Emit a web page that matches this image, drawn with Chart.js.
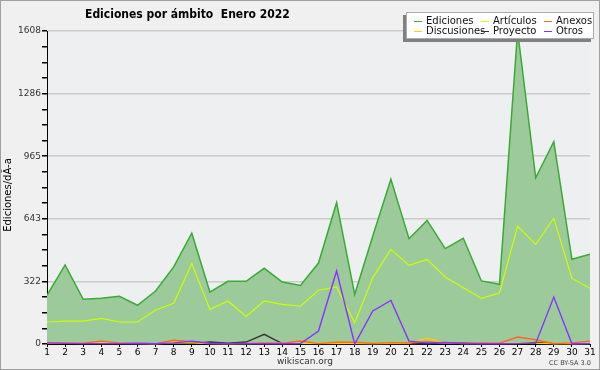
<!DOCTYPE html>
<html>
<head>
<meta charset="utf-8">
<script src="https://cdn.jsdelivr.net/npm/chart.js@4/dist/chart.umd.min.js"></script>
<style>
  html, body { margin: 0; padding: 0; background: #f0f0f0; }
  #wrap { position: relative; width: 600px; height: 370px; box-sizing: border-box; border: 1px solid #a0a0a0; background: #f0f0f0; overflow: hidden; }
  #chart { position: absolute; left: -1px; top: -1px; }
  .txt { position: absolute; font-family: "DejaVu Sans", sans-serif; color: #000; white-space: pre; }
  #title { left: 84px; top: 6px; font-size: 12px; font-weight: bold; font-family: "DejaVu Sans Condensed", "DejaVu Sans", sans-serif; }
  #ytitle { left: -43px; top: 188px; width: 100px; height: 12px; line-height: 12px; font-size: 10px; text-align: center; transform: rotate(-90deg); transform-origin: 50% 50%; }
  #site { left: 276px; top: 355px; font-size: 9px; color: #333; }
  #cc { left: 548px; top: 358px; font-size: 6.5px; color: #444; }
  #legend { position: absolute; left: 405px; top: 11px; width: 186px; height: 25px; background: #fff; border: 1px solid #aaa; box-shadow: -3px 3px 0 #808080; }
  .item { position: absolute; white-space: nowrap; font-family: "DejaVu Sans", sans-serif; font-size: 10px; line-height: 10px; color: #111; }
  .item i { display: inline-block; width: 8px; height: 0; border-top: 1px solid; vertical-align: middle; margin-right: 4px; }
</style>
</head>
<body>
<div id="wrap">
  <canvas id="chart" width="600" height="370"></canvas>
  <div id="title" class="txt">Ediciones por ámbito  Enero 2022</div>
  <div id="ytitle" class="txt">Ediciones/dÃ-a</div>
  <div id="site" class="txt">wikiscan.org</div>
  <div id="cc" class="txt">CC BY-SA 3.0</div>
  <div id="legend"></div>
</div>
<script>
const days = ['1','2','3','4','5','6','7','8','9','10','11','12','13','14','15','16','17','18','19','20','21','22','23','24','25','26','27','28','29','30','31'];
const ediciones = [250,406,230,235,245,199,272,396,569,267,322,322,389,318,301,416,726,255,555,846,541,635,490,543,324,307,1608,854,1039,435,461];
const articulos = [113,118,118,132,113,113,175,209,413,178,221,142,221,204,194,276,293,109,341,486,404,435,344,289,235,262,606,512,646,337,286];
const anexos = [5,5,4,15,6,3,2,19,12,3,2,3,5,4,15,2,9,9,3,7,5,12,4,3,5,4,36,22,1,6,15];
const discusiones = [3,3,6,6,4,3,2,8,6,2,2,2,3,3,3,3,4,4,2,4,3,30,4,3,3,3,4,3,2,2,3];
const proyecto = [2,2,2,2,2,1,1,2,2,10,4,10,50,2,2,1,1,1,1,1,1,1,6,5,1,2,2,8,2,1,2];
const otros = [6,3,2,2,2,4,1,6,14,4,2,2,1,1,2,67,375,0,170,224,15,6,8,1,1,1,2,3,241,1,2];
const yMax = 1608;
const yTickLabels = ['0','322','643','965','1286','1608'];
const minorPerMajor = 4;

const colors = {
  Ediciones: '#3aaa35', Discusiones: '#ffcc00', 'Artículos': '#ccff00',
  Proyecto: '#333333', Anexos: '#ff6622', Otros: '#8833ff'
};

// legend, 3 columns x 2 rows like the original
const legendOrder = [['Ediciones', 7, 3], ['Artículos', 74, 3], ['Anexos', 137, 3],
                     ['Discusiones', 7, 13], ['Proyecto', 74, 13], ['Otros', 137, 13]];
const legendEl = document.getElementById('legend');
legendOrder.forEach(([name, x, y]) => {
  const d = document.createElement('div');
  d.className = 'item';
  d.style.left = x + 'px';
  d.style.top = y + 'px';
  d.innerHTML = `<i style="border-color:${colors[name]}"></i>${name}`;
  legendEl.appendChild(d);
});

const plotBg = {
  id: 'plotBg',
  beforeDraw(chart) {
    const { ctx, chartArea: a } = chart;
    ctx.save();
    ctx.fillStyle = '#eeeff1';
    ctx.fillRect(a.left, a.top, a.right - a.left, a.bottom - a.top);
    ctx.restore();
  }
};

const line = (label, data, order, extra) => Object.assign({
  label, data, order,
  borderColor: colors[label],
  borderWidth: 1.4,
  pointRadius: 0,
  tension: 0,
  fill: false,
  clip: 4
}, extra || {});

new Chart(document.getElementById('chart'), {
  type: 'line',
  data: {
    labels: days,
    datasets: [
      line('Ediciones', ediciones, 10, { fill: 'origin', backgroundColor: '#9dca9b', borderWidth: 1.5, clip: 0 }),
      line('Artículos', articulos, 5, { borderWidth: 1.2 }),
      line('Proyecto', proyecto, 4),
      line('Discusiones', discusiones, 3),
      line('Anexos', anexos, 2),
      line('Otros', otros, 1)
    ]
  },
  options: {
    responsive: false,
    animation: false,
    layout: { padding: { top: 31, right: 10, left: 0, bottom: 0 } },
    plugins: { legend: { display: false }, tooltip: { enabled: false } },
    scales: {
      x: {
        offset: false,
        afterFit(s) { s.height = 26; },
        grid: { drawOnChartArea: false, tickLength: 3, tickColor: '#000' },
        border: { color: '#000', width: 1 },
        ticks: { color: '#000', font: { family: 'DejaVu Sans', size: 9 }, padding: 0, maxRotation: 0, autoSkip: false }
      },
      y: {
        min: 0,
        max: yMax,
        afterFit(s) { s.width = 47; },
        afterBuildTicks(s) {
          const n = (yTickLabels.length - 1) * minorPerMajor;
          s.ticks = [];
          for (let i = 0; i <= n; i++) s.ticks.push({ value: yMax * i / n });
        },
        grid: {
          color: c => (c.index % minorPerMajor === 0 && c.index > 0) ? '#cbcbcb' : 'rgba(0,0,0,0)',
          lineWidth: 1.5,
          tickLength: 5,
          tickColor: '#000'
        },
        border: { color: '#000', width: 1 },
        ticks: {
          color: '#333',
          font: { family: 'DejaVu Sans', size: 9 },
          padding: 1,
          autoSkip: false,
          callback: (v, i) => i % minorPerMajor === 0 ? yTickLabels[i / minorPerMajor] : ''
        }
      }
    }
  },
  plugins: [plotBg]
});
</script>
</body>
</html>
